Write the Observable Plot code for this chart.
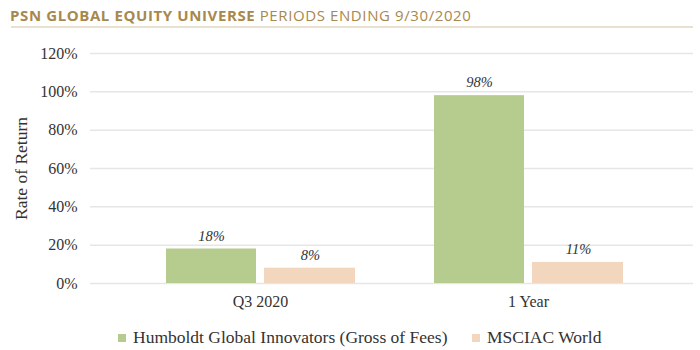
<!DOCTYPE html>
<html>
<head>
<meta charset="utf-8">
<script src="https://cdn.jsdelivr.net/npm/d3@7"></script>
<script src="https://cdn.jsdelivr.net/npm/@observablehq/plot@0.6"></script>
<style>
  html, body { margin: 0; padding: 0; background: #fff; }
  #wrap { position: relative; width: 700px; height: 350px; overflow: hidden; }
  #title { position: absolute; left: 10px; top: 5px; font-family: "Open Sans", sans-serif; font-size: 15px; color: #a8884c; white-space: nowrap; letter-spacing: 0.6px; }
  #title b { font-weight: 700; }
  #title span { font-weight: 400; }
  #rule { position: absolute; left: 11px; top: 26px; width: 682px; height: 2px; background: #e9e1d0; }
  #chart { position: absolute; left: 0; top: 30px; }
  #legend { position: absolute; left: 118px; top: 327px; font-family: "Liberation Serif", "Times New Roman", serif; font-size: 17.5px; color: #333; white-space: nowrap; }
  .item { position: absolute; top: 0; }
  .sw { position: absolute; top: 7px; width: 8px; height: 8px; }
  #chart svg text { font-family: "Liberation Serif", "Times New Roman", serif; }
  #chart svg [aria-label="y-axis label"] text { font-size: 17.5px; }
</style>
</head>
<body>
<div id="wrap">
  <div id="title"><b>PSN GLOBAL EQUITY UNIVERSE</b> <span>PERIODS ENDING 9/30/2020</span></div>
  <div id="rule"></div>
  <div id="chart"></div>
  <div id="legend"></div>
</div>
<script>
const periods = ["Q3 2020", "1 Year"];
const seriesNames = ["Humboldt Global Innovators (Gross of Fees)", "MSCIAC World"];
const fundValues = [0.18, 0.98];
const benchValues = [0.08, 0.11];
const yTicks = [0, 0.2, 0.4, 0.6, 0.8, 1.0, 1.2];
const colors = ["#b5cc8e", "#f2d6bd"];

const fund = periods.map((p, i) => ({period: p, value: fundValues[i], series: seriesNames[0]}));
const bench = periods.map((p, i) => ({period: p, value: benchValues[i], series: seriesNames[1]}));
const pct = d => Math.round(d * 100) + "%";

const chart = Plot.plot({
  width: 700,
  height: 292,
  marginTop: 23,
  marginBottom: 39,
  marginLeft: 90,
  marginRight: 7,
  style: {fontFamily: "Liberation Serif", fontSize: "16px", color: "#333", background: "transparent"},
  x: {domain: periods, range: [126, 662], padding: 0, label: null},
  y: {domain: [0, 1.2], label: null},
  marks: [
    Plot.ruleY(yTicks, {stroke: "#e6e6e6", strokeWidth: 1.5}),
    Plot.barY(fund, {x: "period", y: "value", fill: colors[0], insetLeft: 40, insetRight: 138}),
    Plot.barY(bench, {x: "period", y: "value", fill: colors[1], insetLeft: 138, insetRight: 39}),
    Plot.text(fund, {x: "period", y: "value", text: d => pct(d.value), dx: -49, dy: -13, fontStyle: "italic", fontSize: 14.5, fill: "#333"}),
    Plot.text(bench, {x: "period", y: "value", text: d => pct(d.value), dx: 50, dy: -13, fontStyle: "italic", fontSize: 14.5, fill: "#333"}),
    Plot.axisY({ticks: yTicks, tickFormat: pct, tickSize: 0, tickPadding: 13, label: "Rate of Return", labelAnchor: "center", labelOffset: 76, labelArrow: "none"}),
    Plot.axisX({tickSize: 0, tickPadding: 12, label: null})
  ]
});
document.getElementById("chart").appendChild(chart);

const legend = document.getElementById("legend");
const offsets = [0, 354];
seriesNames.forEach((name, i) => {
  const item = document.createElement("div");
  item.className = "item";
  item.style.left = offsets[i] + "px";
  item.innerHTML = `<div class="sw" style="left:0;background:${colors[i]}"></div><div style="position:absolute;left:15px;top:0">${name}</div>`;
  legend.appendChild(item);
});
</script>
</body>
</html>
